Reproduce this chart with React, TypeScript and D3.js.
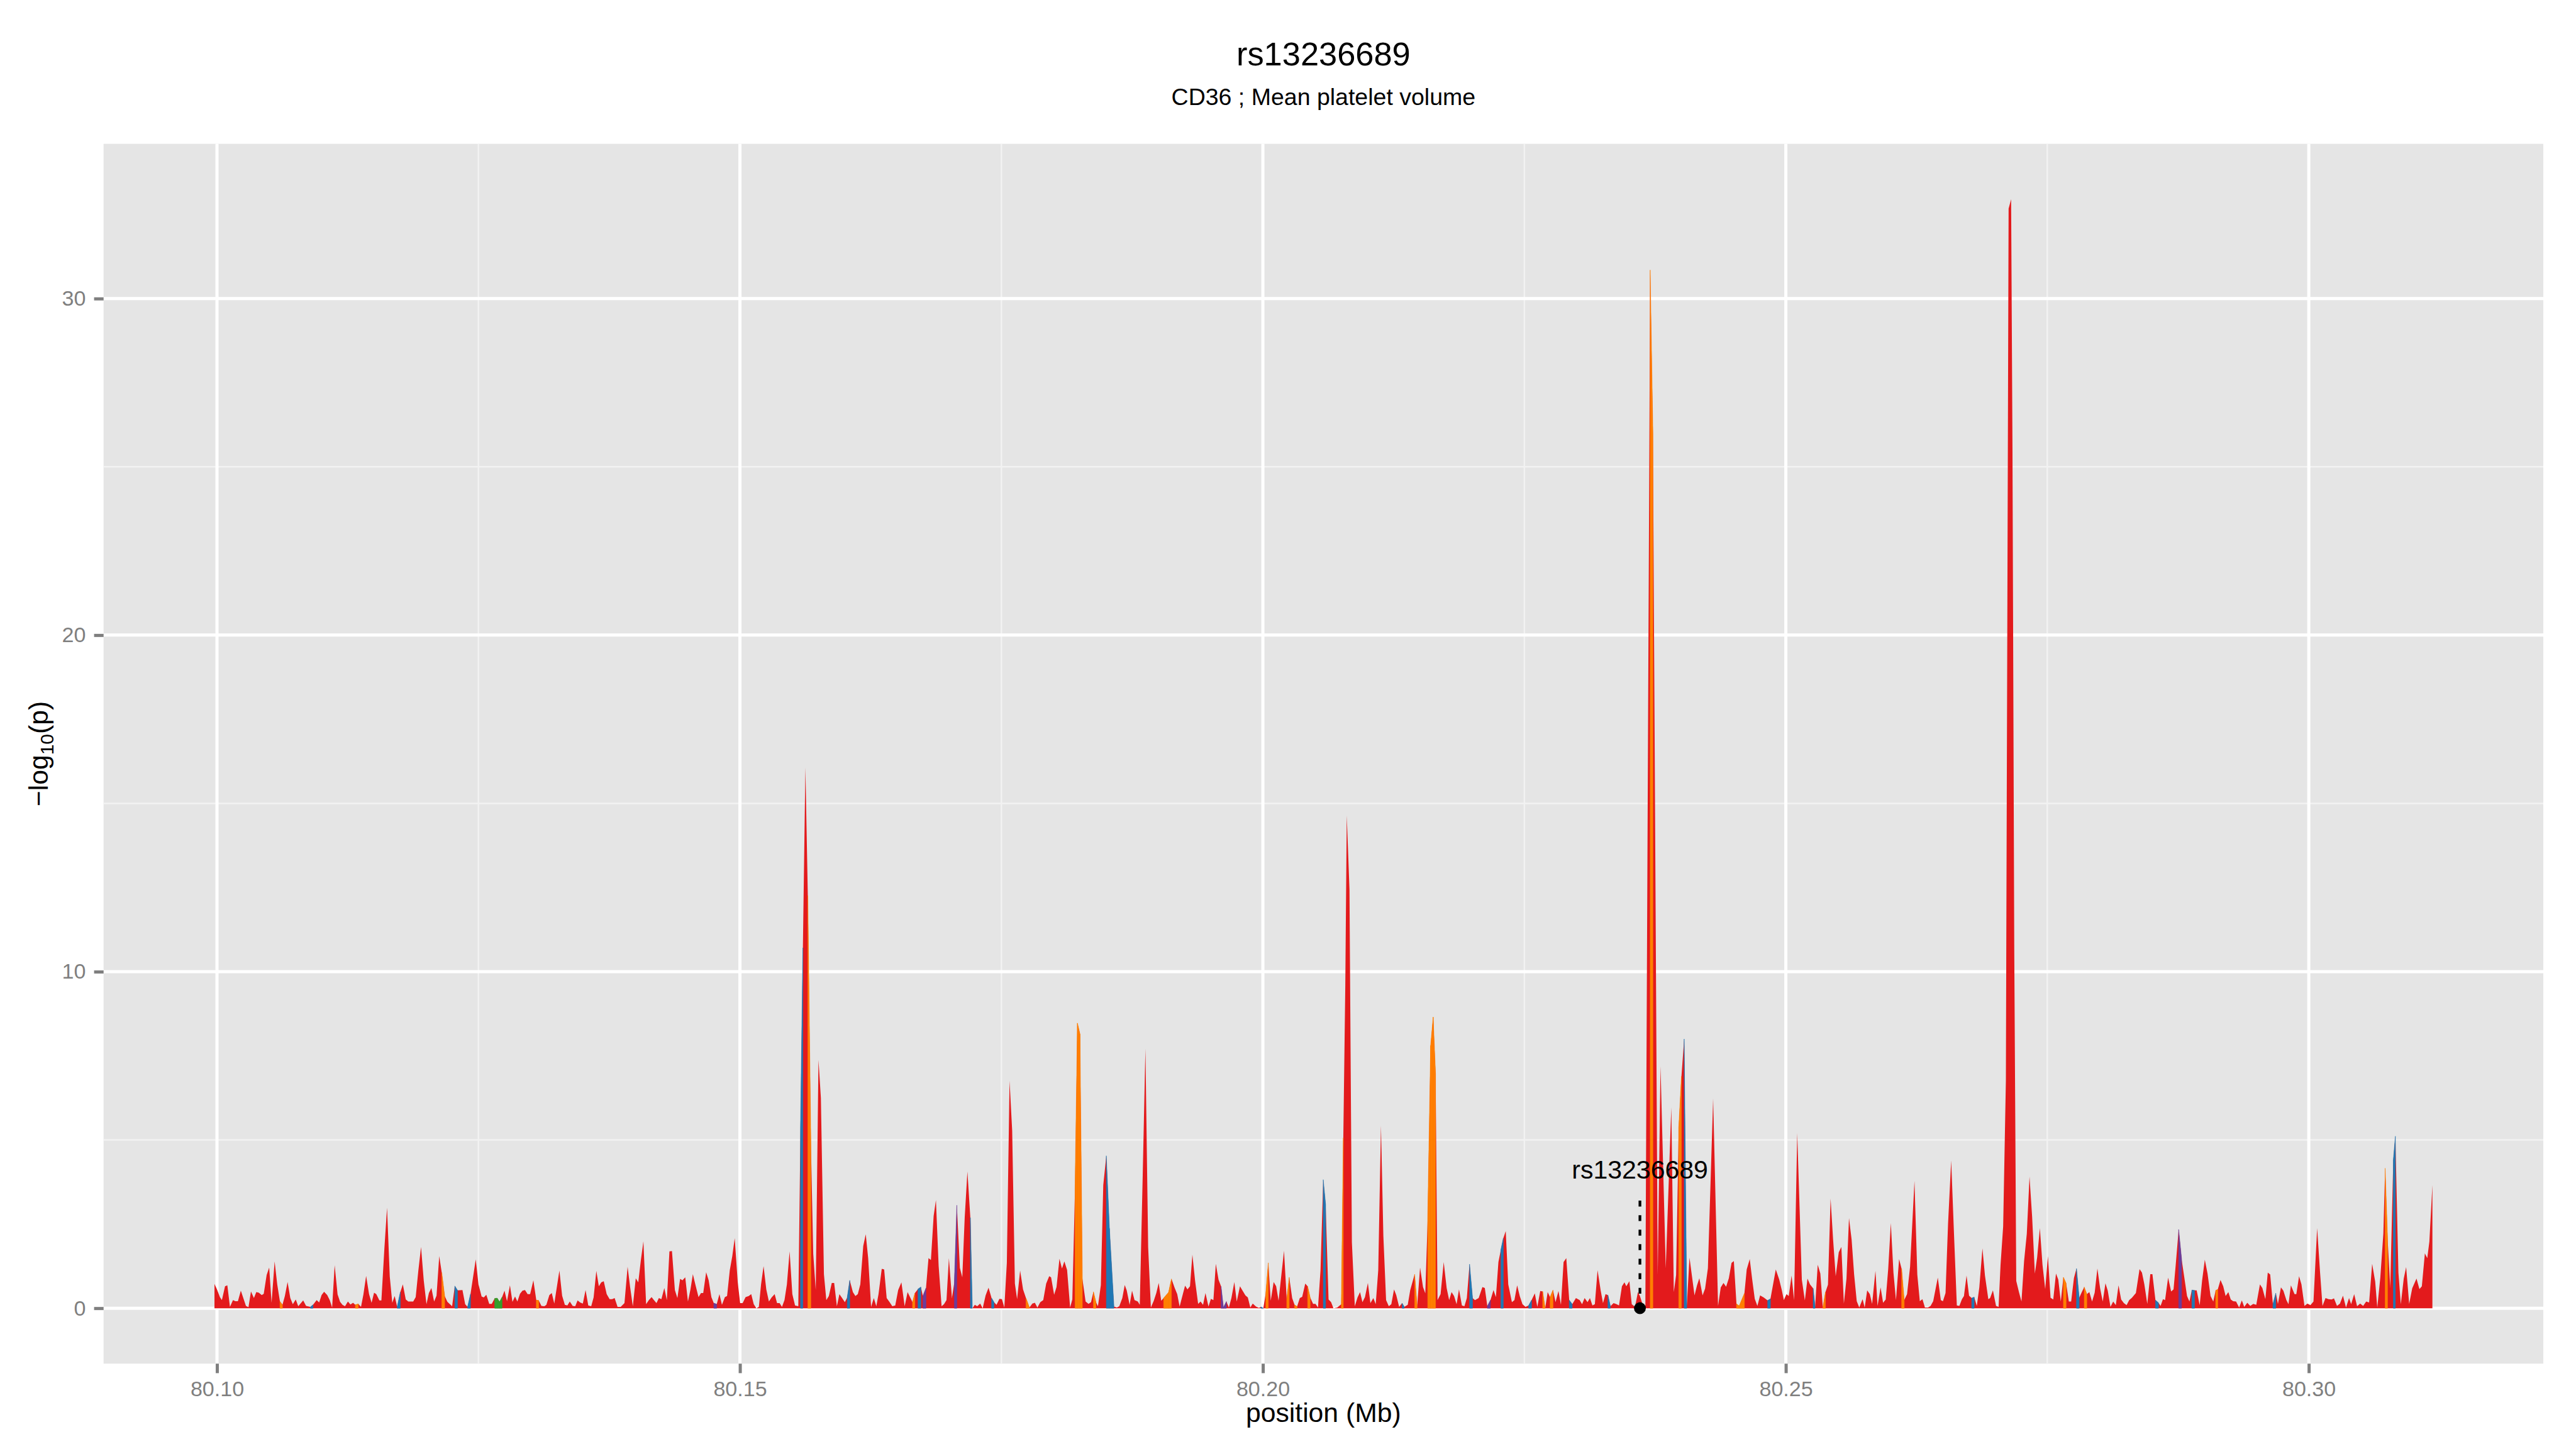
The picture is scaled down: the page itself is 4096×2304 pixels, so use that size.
import { useEffect, useRef } from "react";
import * as d3 from "d3";

// chart text
const title = "rs13236689";
const subtitle = "CD36 ; Mean platelet volume";
const xTitle = "position (Mb)";
const xTicks = [80.1, 80.15, 80.2, 80.25, 80.3];
const xMinor = [80.125, 80.175, 80.225, 80.275];
const yTicks = [0, 10, 20, 30];
const yMinor = [5, 15, 25];

// SNP positions, counted in steps of 10 bp from 80.10 Mb, and their -log10(p)
const regionStartMb = 80.1;
const offsetStepBp = 10;
const snpOffset = [
  -24, 0, 28, 47, 77, 99, 124, 153, 176, 200,
  228, 277, 301, 325, 353, 376, 400, 428, 447, 475,
  499, 522, 551, 576, 602, 626, 649, 675, 701, 725,
  753, 777, 824, 852, 894, 918, 953, 977, 1000, 1024,
  1054, 1078, 1101, 1125, 1153, 1177, 1200, 1224, 1252, 1276,
  1301, 1323, 1351, 1377, 1400, 1426, 1454, 1478, 1502, 1523,
  1553, 1572, 1600, 1626, 1652, 1676, 1699, 1723, 1753, 1777,
  1805, 1829, 1876, 1900, 1925, 1951, 1977, 2003, 2026, 2050,
  2076, 2099, 2125, 2149, 2177, 2203, 2248, 2274, 2300, 2347,
  2373, 2396, 2424, 2474, 2500, 2530, 2551, 2575, 2603, 2627,
  2655, 2679, 2702, 2726, 2749, 2773, 2801, 2825, 2850, 2872,
  2897, 2921, 2945, 2970, 2994, 3025, 3053, 3076, 3102, 3130,
  3149, 3178, 3201, 3225, 3274, 3300, 3326, 3350, 3373, 3401,
  3425, 3448, 3472, 3498, 3524, 3550,
  3578, 3601, 3627, 3651, 3674, 3698, 3726, 3754, 3778, 3802,
  3830, 3860, 3896, 3926, 3950, 3976, 4004, 4028, 4053, 4077,
  4103, 4129, 4155, 4178, 4202, 4225, 4249, 4277, 4301, 4326,
  4350, 4378, 4402, 4428, 4451, 4477, 4503, 4527, 4550, 4578,
  4604, 4628, 4649, 4677, 4701, 4727, 4750, 4778, 4804, 4828,
  4856, 4877, 4903, 4927, 4950, 4979, 5002, 5026, 5054, 5084,
  5108, 5132, 5157, 5181, 5202, 5226, 5252, 5277, 5303, 5332,
  5355, 5379, 5402, 5426, 5449, 5475, 5501, 5527, 5558, 5579,
  5602, 5626, 5649, 5678, 5701, 5725, 5751, 5774, 5803, 5826,
  5850, 5878, 5901, 5927, 5951, 5977, 6003, 6026, 6050, 6080,
  6104, 6127, 6151, 6179, 6203, 6226, 6254, 6280, 6304, 6325,
  6356, 6379, 6403, 6431, 6457, 6485, 6513, 6544, 6575, 6603,
  6650, 6673, 6702, 6730, 6749, 6779, 6803, 6826, 6852, 6874,
  6900, 6928, 6951, 6975, 6998, 7027, 7050, 7074, 7103, 7126,
  7149, 7175, 7203, 7222, 7246, 7269, 7297, 7321, 7349, 7377,
  7406, 7429, 7453, 7481, 7505, 7528, 7552, 7578, 7603, 7629,
  7650, 7679, 7707, 7735, 7768, 7796, 7820, 7844, 7872, 7900,
  7928, 7957, 7975, 8004, 8027, 8055, 8079, 8102, 8128, 8157,
  8178, 8204, 8227, 8251, 8274, 8305, 8333, 8357, 8380, 8404,
  8423, 8451, 8474, 8503, 8533, 8576, 8604, 8627, 8656, 8679,
  8698, 8726, 8749, 8773, 8804, 8823, 8851, 8877, 8903, 8929,
  8957, 8981, 9004, 9028, 9051, 9098, 9126, 9157, 9181, 9204,
  9228, 9256, 9279, 9303, 9326, 9352, 9381, 9404, 9428, 9451,
  9480, 9503, 9527, 9550, 9576, 9600, 9623, 9651, 9675, 9699,
  9727, 9750, 9781, 9804, 9833, 9856, 9880, 9903, 9934, 9962,
  9981, 10004, 10028, 10052, 10075, 10103, 10127, 10150, 10202, 10228,
  10252, 10280, 10303, 10327, 10353, 10376, 10405, 10428, 10452, 10480,
  10503, 10527, 10551, 10577, 10600, 10628, 10652, 10675, 10711,
  10750, 10769, 10788, 10802, 10828, 10851, 10879, 10905, 10929, 10952,
  10976, 11004, 11028, 11056, 11079, 11103, 11129, 11152, 11178, 11204,
  11228, 11254, 11275, 11303, 11331, 11352, 11385, 11409, 11451, 11475,
  11503, 11531, 11553, 11576, 11604, 11628, 11651, 11670, 11699, 11729,
  11757, 11781, 11804, 11828, 11852, 11875, 11903, 11927, 11950, 11976,
  12005, 12028, 12063, 12099, 12122, 12146, 12176, 12205, 12228, 12252,
  12275, 12299, 12322, 12346, 12381, 12405, 12431, 12456, 12482, 12511,
  12541, 12569, 12600, 12624, 12652, 12675, 12699, 12723, 12746, 12774,
  12798, 12826, 12850, 12875, 12901, 12929, 12958, 12993, 13029, 13052,
  13076, 13104, 13127, 13151, 13174, 13200, 13229, 13252, 13276, 13299,
  13323, 13353, 13382, 13405, 13433, 13457, 13475, 13504, 13527, 13558,
  13586, 13605, 13636,
  13657, 13703, 13729, 13775, 13802, 13852, 13905, 13929, 13951, 13976,
  14002, 14028, 14053, 14079, 14127, 14151, 14173, 14204, 14228, 14255,
  14305, 14352, 14378, 14404, 14429, 14455, 14481, 14503, 14528, 14554,
  14604, 14626, 14655, 14677, 14703, 14728, 14754, 14788, 14826, 14853,
  14904,
  14937, 14962, 14981, 15006, 15028, 15055, 15079, 15109, 15153, 15182,
  15207, 15231, 15261, 15280, 15305, 15330, 15354, 15379, 15403, 15428,
  15452, 15477, 15506, 15531, 15555, 15580, 15604, 15629, 15653, 15678,
  15702, 15734, 15754, 15778, 15803, 15825, 15857, 15877, 15906, 15930,
  15955, 15979, 16004, 16029, 16053, 16083, 16107, 16132, 16159, 16188,
  16230, 16257, 16281, 16306, 16330, 16360, 16384, 16409, 16433, 16453,
  16482, 16502, 16527, 16551, 16581, 16610, 16635, 16659, 16684, 16703,
  16728, 16752, 16777, 16801, 16826, 16850, 16880, 16904, 16936, 16953,
  16980, 17010, 17034,
  17053, 17078, 17104, 17130, 17154, 17167, 17184, 17203, 17229, 17253,
  17278, 17304, 17330, 17355, 17381, 17403, 17429, 17454, 17480, 17506,
  17531, 17557, 17583, 17605, 17629, 17654, 17680, 17706, 17728, 17755,
  17779, 17805, 17830, 17853, 17878, 17902, 17928, 17953, 17979, 18005,
  18030, 18056, 18078, 18104, 18130, 18155, 18181, 18206, 18232, 18258,
  18283, 18309,
  18347, 18382, 18405, 18428, 18456, 18485, 18505, 18534, 18563, 18583,
  18606, 18626, 18655, 18684, 18707, 18727, 18756, 18784, 18813, 18836,
  18859, 18882, 18908, 18928, 18957, 18980, 19006, 19032, 19061, 19087,
  19110, 19130, 19156, 19182, 19205, 19231, 19254, 19277, 19305, 19334,
  19360, 19383, 19412, 19441, 19469, 19498, 19533, 19556, 19585, 19608,
  19631, 19657, 19685, 19705, 19734, 19757, 19786, 19806, 19829, 19864,
  19881, 19907, 19930, 19959, 19987, 20016, 20045, 20080, 20108, 20131,
  20160, 20189, 20218, 20241, 20270, 20298, 20327, 20356, 20385, 20405,
  20434, 20462, 20491, 20520, 20549, 20577, 20606, 20635, 20655, 20684,
  20713, 20730, 20753, 20779, 20808, 20828, 20857, 20880, 20908, 20931,
  20960, 20989, 21030, 21058, 21081, 21110, 21133, 21153, 21182,
];
const logP = [
  0.72, 0.56, 0.33, 0.24, 0.65, 0.68, 0.04, 0.24, 0.21, 0.21,
  0.52, 0.07, 0.03, 0.5, 0.3, 0.48, 0.46, 0.39, 0.43, 0.99,
  1.21, 0.16, 1.39, 0.71, 0.2, 0.1, 0.36, 0.78, 0.3, 0.12,
  0.26, 0.06, 0.23, 0.07, 0.04, 0.1, 0.24, 0.17, 0.39, 0.49,
  0.39, 0.24, 0.02, 1.28, 0.41, 0.19, 0.1, 0.06, 0.2, 0.11,
  0.16, 0.1, 0.13, 0.04, 0.41, 0.96, 0.42, 0.16, 0.46, 0.42,
  0.23, 0.23, 1.75, 2.99, 0.94, 0.16, 0.36, 0.04, 0.48, 0.71,
  0.26, 0.2, 0.2, 0.33, 1.11, 1.82, 0.82, 0.12, 0.45, 0.6,
  0.2, 0.37, 1.55, 1.06, 0.36, 0.19, 0.06, 0.66, 0.53, 0.54,
  0.12, 0.04, 0.42, 1.45, 0.71, 0.35, 0.32, 0.4, 0.13, 0.13,
  0.29, 0.3, 0.19, 0.33, 0.52, 0.21, 0.68, 0.19, 0.35, 0.2,
  0.43, 0.52, 0.54, 0.42, 0.42, 0.83, 0.24, 0.23, 0.07, 0.06,
  0.1, 0.39, 0.45, 0.14, 1.12, 0.37, 0.1, 0.08, 0.2, 0.07,
  0.06, 0.23, 0.17, 0.14, 0.54, 0.08,
  0.06, 0.32, 1.11, 0.65, 0.77, 0.8, 0.42, 0.27, 0.27, 0.3,
  0.04, 0.04, 0.15, 1.23, 0.63, 0.06, 0.89, 0.77, 1.43, 1.99,
  0.12, 0.24, 0.33, 0.24, 0.15, 0.3, 0.27, 0.6, 0.24, 1.69,
  1.7, 0.54, 0.3, 0.87, 0.83, 0.92, 0.2, 0.56, 1.01, 0.65,
  0.33, 0.45, 0.45, 1.07, 0.83, 0.33, 0.15, 0.12, 0.42, 0.1,
  0.33, 0.36, 1.13, 1.55, 2.08, 0.77, 0.15, 0.15, 0.33, 0.36,
  0.42, 0.12, 0.0, 0.04, 0.71, 1.25, 0.56, 0.2, 0.32, 0.42,
  0.15, 0.15, 0.04, 0.24, 0.71, 1.69, 0.42, 0.08, 0.06, 5.36,
  10.71, 16.07, 12.26, 4.94, 1.61, 0.54, 7.38, 6.25, 1.01, 0.24,
  0.36, 0.75, 0.75, 0.06, 0.42, 0.3, 0.18, 0.32, 0.83, 0.48,
  0.36, 0.42, 0.71, 1.85, 2.2, 1.49, 0.04, 0.3, 0.06, 0.42,
  1.17, 1.15, 0.3, 0.18, 0.06, 0.08, 0.54, 0.77, 0.06, 0.48,
  0.18, 0.45, 0.57, 0.63, 0.36, 0.6, 1.49, 1.43, 2.74, 3.21,
  1.25, 0.06, 0.12, 0.24, 1.49, 0.3, 0.77, 3.06, 1.2, 0.92,
  2.69, 4.06, 2.69, 0.0, 0.1, 0.06, 0.14, 0.0, 0.38, 0.61,
  0.3, 0.18, 0.1, 0.28, 0.27, 0.02, 1.35, 6.76, 5.27, 0.73,
  0.27, 1.12, 0.56, 0.3, 0.02, 0.14, 0.16, 0.02, 0.18, 0.24,
  0.73, 0.95, 0.92, 0.4, 0.63, 1.47, 1.18, 1.39, 1.14, 0.02,
  0.26, 3.55, 8.47, 8.15, 0.88, 0.2, 0.13, 0.18, 0.49, 0.18,
  0.06, 0.69, 3.66, 4.53, 2.37, 0.05, 0.02, 0.06, 0.3, 0.69,
  0.53, 0.1, 0.52, 0.24, 0.2, 0.1, 3.94, 7.71, 1.82, 0.02,
  0.22, 0.45, 0.75, 0.22, 0.3, 0.47, 0.87, 0.6, 0.42, 0.05,
  0.34, 0.67, 0.56, 0.65, 1.59, 0.81, 0.13, 0.2, 0.1, 0.45,
  0.05, 0.28, 0.24, 1.32, 0.85, 0.65, 0.02, 0.2, 0.02, 0.3,
  0.78, 0.2, 0.65, 0.53, 0.38, 0.32, 0.02, 0.14, 0.05, 0.01,
  0.04, 0.0, 0.45, 1.35, 0.22, 0.78, 0.65, 0.22, 1.71, 0.26,
  0.92, 0.3, 0.1, 0.05, 0.3, 0.34, 0.73, 0.65, 0.32, 0.13,
  0.13, 0.02, 1.12, 3.82, 3.08, 0.26, 0.18, 0.0, 0.02,
  0.12, 5.06, 9.58, 14.64, 12.44, 1.96, 0.06, 0.32, 0.48, 0.18,
  0.33, 0.75, 0.15, 0.3, 0.12, 1.13, 5.42, 2.14, 0.24, 0.06,
  0.12, 0.56, 0.39, 0.04, 0.15, 0.04, 0.1, 0.54, 1.01, 0.06,
  1.21, 0.63, 0.44, 2.68, 7.8, 8.65, 6.96, 0.24, 0.42, 1.37,
  0.6, 0.24, 0.48, 0.36, 0.12, 0.56, 0.08, 0.06, 0.3, 1.31,
  0.3, 0.24, 0.3, 0.63, 0.6, 0.06, 0.24, 0.54, 0.33, 1.37,
  1.73, 2.08, 2.29, 0.71, 0.18, 0.24, 0.68, 0.36, 0.12, 0.04,
  0.08, 0.24, 0.44, 0.04, 0.51, 0.5, 0.0, 0.48, 0.33, 0.54,
  0.18, 0.51, 0.1, 1.37, 1.49, 0.24, 0.12, 0.3, 0.24, 0.12,
  0.3, 0.18, 0.3, 0.08, 0.12, 1.13, 0.54, 0.15, 0.42, 0.39,
  0.06, 0.15, 0.12, 0.08, 0.65, 0.77, 0.65, 0.8, 0.12, 0.04,
  0.48, 0.36, 0.06,
  0.07, 30.85, 26.0, 0.99, 7.19, 1.19, 5.97, 0.48, 0.99, 5.36,
  6.89, 8.0, 0.07, 1.5, 0.38, 0.68, 0.89, 0.38, 0.58, 1.19,
  6.23, 0.07, 0.62, 0.75, 0.64, 0.89, 1.35, 1.4, 0.13, 0.07,
  0.44, 1.15, 1.46, 0.89, 0.28, 0.07, 0.38, 0.32, 0.23, 0.28,
  1.15,
  0.85, 0.53, 0.24, 0.42, 0.36, 0.97, 0.24, 5.2, 0.85, 0.23,
  0.88, 0.71, 0.59, 0.04, 1.29, 1.03, 0.02, 0.48, 0.7, 3.26,
  2.04, 0.95, 1.66, 1.82, 0.14, 0.88, 2.68, 2.04, 1.0, 0.21,
  0.02, 0.27, 0.02, 0.53, 0.42, 0.13, 1.11, 0.07, 0.62, 0.16,
  0.26, 1.17, 2.53, 1.06, 0.24, 1.46, 1.17, 0.24, 0.42, 1.23,
  3.78, 1.0, 0.21, 0.27, 0.02, 0.02, 0.07, 0.21, 0.59, 0.91,
  0.24, 0.21, 0.45, 2.5, 4.39, 2.04, 0.08, 0.07, 0.27, 0.36,
  0.97, 0.37, 0.3, 0.33, 0.07, 0.62, 1.78, 0.97, 0.27, 0.3,
  0.53, 0.07, 0.04,
  1.29, 2.43, 6.76, 32.67, 32.95, 25.56, 10.69, 0.81, 0.48, 0.2,
  1.4, 2.21, 3.91, 2.71, 1.03, 1.51, 2.38, 1.29, 0.57, 1.55,
  0.31, 0.26, 1.03, 0.85, 0.2, 0.92, 0.74, 0.2, 0.2, 0.9,
  1.18, 0.31, 0.48, 0.63, 0.42, 0.48, 0.2, 0.46, 1.18, 0.59,
  0.2, 0.74, 0.52, 0.04, 0.2, 0.09, 0.68, 0.26, 0.15, 0.09,
  0.24, 0.31,
  0.45, 1.16, 1.06, 0.71, 0.13, 1.01, 1.01, 0.24, 0.16, 0.07,
  0.27, 0.24, 0.91, 0.5, 0.56, 1.26, 2.34, 1.46, 0.85, 0.36,
  0.2, 0.54, 0.53, 0.53, 0.09, 0.82, 1.44, 1.03, 0.36, 0.2,
  0.53, 0.56, 0.84, 0.65, 0.36, 0.48, 0.26, 0.21, 0.2, 0.02,
  0.23, 0.04, 0.16, 0.07, 0.13, 0.1, 0.71, 0.6, 0.27, 1.06,
  1.0, 0.12, 0.45, 0.13, 0.62, 0.52, 0.24, 0.12, 0.68, 0.42,
  0.42, 0.95, 0.71, 0.07, 0.14, 0.09, 0.2, 2.38, 1.06, 0.07,
  0.3, 0.27, 0.26, 0.29, 0.07, 0.14, 0.37, 0.02, 0.3, 0.12,
  0.42, 0.06, 0.14, 0.07, 0.2, 0.17, 1.32, 0.79, 0.02, 0.91,
  2.21, 4.16, 2.1, 0.62, 4.39, 5.11, 1.06, 0.12, 0.88, 1.22,
  0.13, 0.59, 0.88, 0.57, 0.65, 1.63, 1.49, 1.98, 3.66,
];

// segments (by start SNP offset) that are not drawn in the default red
const orangeStarts = [
  602, 1323, 2149, 3053, 5649, 6650, 7735, 8204, 8227, 8251, 8380, 9051, 9098,
  10028, 10228, 10303, 10428, 10750, 11451, 11576, 11604, 11628, 12675, 12746,
  13703, 13976, 14528, 14554, 15354, 16107, 17654, 17853, 19110, 20730,
];
const blueStarts = [
  894, 1723, 2274, 2396, 5579, 6026, 6702, 7203, 7406, 8503, 8533, 9981, 10577,
  11331, 11976, 12275, 12541, 12929, 13299, 14028, 14826, 15261, 16777, 17779,
  18534, 18882, 19657, 20808,
];
const purpleStarts = [4750, 6749, 7050, 9600, 9623, 12146, 18756];
const greenStarts = [2655, 2679, 2702];

// highlighted SNP
const leadSnp = "rs13236689";
const leadOffset = 13605;
const leadLabelY = 3.85;
const leadLineTop = 3.3;

const W = 4096;
const H = 2304;
const FONT = "'Liberation Sans', Arial, Helvetica, sans-serif";
const panel = { left: 164.7, right: 4044, top: 228.7, bottom: 2168.3 };
const RED = "#E31A1C";

const toMb = (o: number) => regionStartMb + (o * offsetStepBp) / 1e6;

const App = () => {
  const xAxisRef = useRef<SVGGElement>(null);
  const yAxisRef = useRef<SVGGElement>(null);

  const n = Math.min(snpOffset.length, logP.length);
  const pos = snpOffset.slice(0, n).map(toMb);
  const vals = logP.slice(0, n);

  // ggplot-style 5% expansion on both axes
  const [x0, x1] = d3.extent(pos) as [number, number];
  const xPad = (x1 - x0) * 0.05;
  const x = d3.scaleLinear().domain([x0 - xPad, x1 + xPad]).range([panel.left, panel.right]);
  const yHi = d3.max(vals) as number;
  const yLo = Math.min(0, d3.min(vals) as number);
  const yPad = (yHi - yLo) * 0.05;
  const y = d3.scaleLinear().domain([yLo - yPad, yHi + yPad]).range([panel.bottom, panel.top]);

  const area = d3
    .area<number>()
    .x((_, i) => x(pos[i]))
    .y0(y(0))
    .y1((d) => y(d));

  const segArea = d3
    .area<[number, number]>()
    .x((d) => x(d[0]))
    .y0(y(0))
    .y1((d) => y(d[1]));

  const colourOf = new Map<number, string>();
  orangeStarts.forEach((o) => colourOf.set(o, "#FF7F00"));
  blueStarts.forEach((o) => colourOf.set(o, "#1F78B4"));
  purpleStarts.forEach((o) => colourOf.set(o, "#6A3D9A"));
  greenStarts.forEach((o) => colourOf.set(o, "#33A02C"));

  const segments: { d: string; c: string }[] = [];
  for (let i = 0; i < n - 1; i++) {
    const c = colourOf.get(snpOffset[i]);
    if (!c) continue;
    segments.push({
      d: segArea([
        [pos[i], vals[i]],
        [pos[i + 1], vals[i + 1]],
      ]) as string,
      c,
    });
  }

  const leadX = x(toMb(leadOffset));

  useEffect(() => {
    const gx = d3.select(xAxisRef.current as SVGGElement);
    gx.call(
      d3
        .axisBottom(x)
        .tickValues(xTicks)
        .tickFormat(d3.format(".2f") as any)
        .tickSizeInner(15.1)
        .tickSizeOuter(0)
        .tickPadding(12.4) as any
    );
    gx.select(".domain").remove();
    gx.selectAll(".tick line").attr("stroke", "#7F7F7F").attr("stroke-width", 5);
    gx.selectAll(".tick text")
      .attr("fill", "#7F7F7F")
      .attr("font-size", 34.1)
      .attr("font-family", FONT);

    const gy = d3.select(yAxisRef.current as SVGGElement);
    gy.call(
      d3
        .axisLeft(y)
        .tickValues(yTicks)
        .tickFormat(d3.format("d") as any)
        .tickSizeInner(15.1)
        .tickSizeOuter(0)
        .tickPadding(13.1) as any
    );
    gy.select(".domain").remove();
    gy.selectAll(".tick line").attr("stroke", "#7F7F7F").attr("stroke-width", 5);
    gy.selectAll(".tick text")
      .attr("fill", "#7F7F7F")
      .attr("font-size", 34.1)
      .attr("font-family", FONT);
  }, []);

  const cx = (panel.left + panel.right) / 2;
  const cy = (panel.top + panel.bottom) / 2;

  return (
    <svg
      width={W}
      height={H}
      style={{ position: "absolute", left: 0, top: 0, display: "block" }}
      fontFamily={FONT}
    >
      <rect width={W} height={H} fill="white" />
      <rect
        x={panel.left}
        y={panel.top}
        width={panel.right - panel.left}
        height={panel.bottom - panel.top}
        fill="#E5E5E5"
      />
      {xMinor.map((t) => (
        <line key={"xm" + t} x1={x(t)} x2={x(t)} y1={panel.top} y2={panel.bottom} stroke="#F2F2F2" strokeWidth={2.5} />
      ))}
      {yMinor.map((t) => (
        <line key={"ym" + t} x1={panel.left} x2={panel.right} y1={y(t)} y2={y(t)} stroke="#F2F2F2" strokeWidth={2.5} />
      ))}
      {xTicks.map((t) => (
        <line key={"xM" + t} x1={x(t)} x2={x(t)} y1={panel.top} y2={panel.bottom} stroke="white" strokeWidth={5} />
      ))}
      {yTicks.map((t) => (
        <line key={"yM" + t} x1={panel.left} x2={panel.right} y1={y(t)} y2={y(t)} stroke="white" strokeWidth={5} />
      ))}

      <path d={area(vals) as string} fill={RED} />
      {segments.map((s, i) => (
        <path key={i} d={s.d} fill={s.c} stroke={s.c} strokeWidth={0.6} />
      ))}

      <line
        x1={leadX}
        x2={leadX}
        y1={y(0)}
        y2={y(leadLineTop)}
        stroke="black"
        strokeWidth={4.3}
        strokeDasharray="9.4 13.7"
      />
      <circle cx={leadX} cy={y(0)} r={9.4} fill="black" />
      <text x={leadX} y={y(leadLabelY)} textAnchor="middle" fontSize={41} fill="black">
        {leadSnp}
      </text>

      <g ref={xAxisRef} transform={`translate(0,${panel.bottom})`} />
      <g ref={yAxisRef} transform={`translate(${panel.left},0)`} />

      <text x={cx} y={104} textAnchor="middle" fontSize={52.4} fill="black">
        {title}
      </text>
      <text x={cx} y={167} textAnchor="middle" fontSize={37.5} fill="black">
        {subtitle}
      </text>
      <text x={cx} y={2261} textAnchor="middle" fontSize={42.7} fill="black">
        {xTitle}
      </text>
      <text transform={`translate(76.4,${cy}) rotate(-90)`} textAnchor="middle" fontSize={42.7} fill="black">
        <tspan>−log</tspan>
        <tspan fontSize={30} dy={9}>
          10
        </tspan>
        <tspan dy={-9}>(p)</tspan>
      </text>
    </svg>
  );
};

export default App;
